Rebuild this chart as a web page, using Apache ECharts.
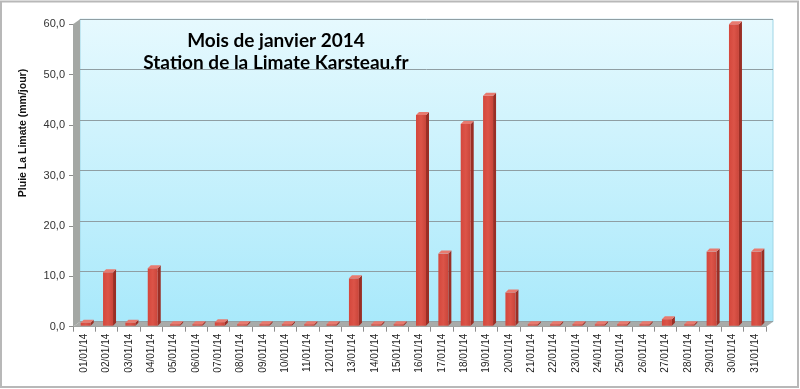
<!DOCTYPE html>
<html>
<head>
<meta charset="utf-8">
<script src="https://cdn.jsdelivr.net/npm/echarts@6/dist/echarts.min.js"></script>
<style>html,body{margin:0;padding:0;background:#fff;}#c{width:800px;height:389px;}</style>
</head>
<body>
<div id="c"></div>
<script>
const categories = ['01/01/14','02/01/14','03/01/14','04/01/14','05/01/14','06/01/14','07/01/14','08/01/14','09/01/14','10/01/14','11/01/14','12/01/14','13/01/14','14/01/14','15/01/14','16/01/14','17/01/14','18/01/14','19/01/14','20/01/14','21/01/14','22/01/14','23/01/14','24/01/14','25/01/14','26/01/14','27/01/14','28/01/14','29/01/14','30/01/14','31/01/14'];
const rain = [0.8,10.8,0.8,11.6,0.5,0.1,0.9,0.3,0.3,0.1,0.1,0.1,9.6,0.3,0.1,42.0,14.5,40.2,45.8,6.8,0.3,0.1,0.2,0.1,0.2,0.1,1.5,0.3,14.9,60.0,14.9];
const yTicks = [0,10,20,30,40,50,60];
const titleLines = ['Mois de janvier 2014','Station de la Limate Karsteau.fr'];
const yName = 'Pluie La Limate (mm/jour)';

const W = 800, H = 389;
const L = 73, R = 766, T = 24.3, B = 326.7, DX = 7, DY = -5;
const yMin = yTicks[0], yMax = yTicks[yTicks.length-1], yStep = yTicks[1]-yTicks[0];
const fmt = v => v.toFixed(1).replace('.', ',');

const chart = echarts.init(document.getElementById('c'), null, {renderer:'canvas'});

function renderBar(params, api) {
  const idx = api.value(0);
  const top = api.coord([idx, api.value(1)]);
  const base = api.coord([idx, 0]);
  const w = 10, d = 3;
  const left = top[0] - w/2 + 1.5;
  let ty = top[1];
  const by = base[1] - 1;
  if (by - ty < 1.5) ty = by - 1.5;
  return {
    type: 'group',
    children: [
      {type:'polygon', shape:{points:[[left+w,ty],[left+w+d,ty-d],[left+w+d,by-d],[left+w,by]]}, style:{fill:'#9a2e25'}},
      {type:'rect', shape:{x:left, y:ty, width:w, height:by-ty}, style:{fill:new echarts.graphic.LinearGradient(0,0,1,0,[{offset:0,color:'#d4473c'},{offset:0.5,color:'#dc5448'},{offset:1,color:'#c9453a'}])}},
      {type:'polygon', shape:{points:[[left,ty],[left+d,ty-d],[left+w+d,ty-d],[left+w,ty]]}, style:{fill:'#e87a6f'}}
    ]
  };
}

chart.setOption({
  animation: false,
  grid: [
    {left: L, right: W-R, top: T, bottom: H-B, containLabel: false},
    {left: L+DX, right: W-R-DX, top: T+DY, bottom: H-B-DY, show: true,
     backgroundColor: new echarts.graphic.LinearGradient(0,0,0,1,[{offset:0,color:'#e6f9fe'},{offset:1,color:'#a9e9fb'}]),
     borderColor: '#9fd6e6', borderWidth: 1}
  ],
  xAxis: [
    {type:'category', gridIndex:0, data: categories,
     axisLine:{lineStyle:{color:'#8c8c8c'}},
     axisTick:{show:true, interval:0, length:5, lineStyle:{color:'#8c8c8c'}},
     axisLabel:{interval:0, rotate:90, fontSize:10, color:'#222', margin:7, fontFamily:'Liberation Sans'}},
    {type:'category', gridIndex:1, data: categories, show:false}
  ],
  yAxis: [
    {type:'value', gridIndex:0, min:yMin, max:yMax, interval:yStep,
     axisLine:{show:true, lineStyle:{color:'#8c8c8c'}},
     axisTick:{show:true, length:4, lineStyle:{color:'#8c8c8c'}},
     axisLabel:{formatter: fmt, fontSize:11, color:'#333', margin:8, fontFamily:'Liberation Sans'},
     splitLine:{show:false}},
    {type:'value', gridIndex:1, min:yMin, max:yMax, interval:yStep,
     axisLine:{show:false}, axisTick:{show:false}, axisLabel:{show:false},
     splitLine:{show:true, lineStyle:{color:'#8f9ea3', width:1}}}
  ],
  graphic: [
    {type:'rect', z:0, shape:{x:1, y:1.5, width:797, height:385.5}, style:{fill:'none', stroke:'#b8b8b8', lineWidth:2}},
    {type:'polygon', z:1, shape:{points:[[L,T],[L+DX,T+DY],[L+DX,B+DY],[L,B]]}, style:{fill:'#a4a7a4'}},
    {type:'polygon', z:1, shape:{points:[[L,B],[L+DX,B+DY],[R+DX,B+DY],[R,B]]}, style:{fill:'#a9aba9'}},
    {type:'text', z:5, x:276, y:31, style:{text:titleLines[0], font:'bold 19px Lato', fill:'#000', align:'center', verticalAlign:'top'}},
    {type:'text', z:5, x:276, y:53, style:{text:titleLines[1], font:'bold 19px Lato', fill:'#000', align:'center', verticalAlign:'top'}},
    {type:'text', z:5, x:23, y:133, rotation:Math.PI/2, style:{text:yName, font:'bold 10.5px "Liberation Sans"', fill:'#111', align:'center', verticalAlign:'middle'}}
  ],
  series: [{
    type:'custom', xAxisIndex:0, yAxisIndex:0, z:3,
    renderItem: renderBar,
    data: rain.map((v,i)=>[i,v])
  }]
});
</script>
</body>
</html>
